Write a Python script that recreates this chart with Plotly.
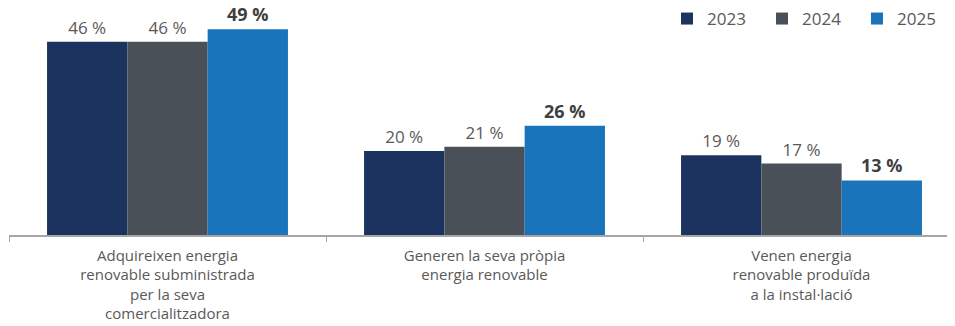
import plotly.graph_objects as go

categories = [
    "Adquireixen energia<br>renovable subministrada<br>per la seva<br>comercialitzadora",
    "Generen la seva pròpia<br>energia renovable",
    "Venen energia<br>renovable produïda<br>a la instal·lació",
]
years = ["2023", "2024", "2025"]
v2023 = [46, 20, 19]
v2024 = [46, 21, 17]
v2025 = [49, 26, 13]
colors = ["#1c335f", "#495057", "#1a74bb"]

fig = go.Figure()
for name, vals, col in zip(years, [v2023, v2024, v2025], colors):
    bold = name == "2025"
    texts = [f"<b>{v} %</b>" if bold else f"{v} %" for v in vals]
    fig.add_trace(go.Bar(
        x=categories, y=vals, name=name, marker_color=col, marker_line_width=0,
        text=texts, textposition="outside", cliponaxis=False,
        textfont=dict(size=18 if bold else 17, color="#3f3f3f" if bold else "#595959",
                      family="Open Sans"),
    ))

# the page body adds an 8px offset; margins compensate for it
fig.update_layout(
    width=955, height=326,
    margin=dict(l=1, r=3, t=17, b=99, autoexpand=False),
    barmode="group", bargap=0.24, bargroupgap=0,
    plot_bgcolor="white", paper_bgcolor="white",
    font=dict(family="Open Sans", size=15, color="#595959"),
    legend=dict(orientation="h", xref="container", yref="container",
                x=659 / 955, xanchor="left", y=1 - 11 / 326, yanchor="middle",
                font=dict(size=17, color="#595959"), itemwidth=30,
                traceorder="normal", entrywidth=50, entrywidthmode="pixels"),
    showlegend=True,
)
fig.update_xaxes(showline=True, linecolor="#a6a6a6", linewidth=1.5,
                 ticks="outside", tickson="boundaries", ticklen=5,
                 tickcolor="#a6a6a6", tickfont=dict(size=15, color="#595959"),
                 ticklabelstandoff=6,
                 range=[-0.5, 2.5], automargin=False)
fig.update_yaxes(visible=False, range=[0, 50], automargin=False)

fig.write_html("out.html")
